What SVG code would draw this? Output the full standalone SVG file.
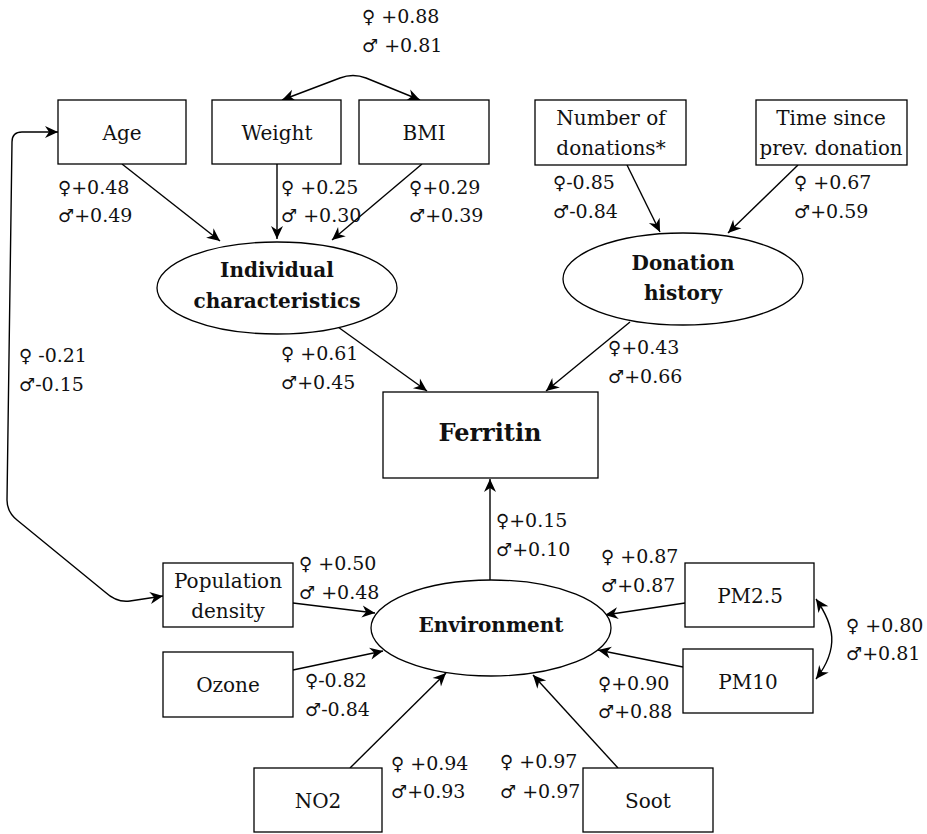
<svg xmlns="http://www.w3.org/2000/svg" width="927" height="834" viewBox="0 0 927 834">
<style>
.box{fill:#fff;stroke:#000;stroke-width:1.3}
.t{font-family:"DejaVu Serif",serif;font-size:20px;fill:#111;text-anchor:middle}
.b{font-family:"DejaVu Serif",serif;font-weight:bold;font-size:20px;fill:#111;text-anchor:middle}
.e{fill:none;stroke:#000;stroke-width:1.4;marker-end:url(#ah)}
.d{marker-start:url(#ah)}
.l{font-family:"DejaVu Serif",serif;font-size:19px;fill:#111}
.s{font-family:"DejaVu Sans",sans-serif;font-size:18px}
</style>
<defs>
<marker id="ah" viewBox="-14 -7 15 14" refX="0" refY="0" markerWidth="15" markerHeight="14" markerUnits="userSpaceOnUse" orient="auto-start-reverse">
<path d="M0,0 L-13,-6 L-9,0 L-13,6 Z" fill="#000"/>
</marker>
</defs>
<rect width="927" height="834" fill="#fff"/>
<g id="connectors">
<path class="e" d="M122 164 L220 241"/>
<path class="e" d="M277 164 L277 239"/>
<path class="e" d="M422 164 L332 240"/>
<path class="e d" d="M282 100 L340 78 Q353 73 366 78 L420 100"/>
<path class="e" d="M627 165 L660 232"/>
<path class="e" d="M798 165 L728 233"/>
<path class="e" d="M338 327 L427 391"/>
<path class="e" d="M630 322 L546 391"/>
<path class="e" d="M490 580 L490 479"/>
<path class="e" d="M293 603 L375 613"/>
<path class="e" d="M293 670 L383 651"/>
<path class="e" d="M350 768 L446 673"/>
<path class="e" d="M618 768 L533 675"/>
<path class="e" d="M685 603 L605 615"/>
<path class="e" d="M683 667 L598 650"/>
<path class="e d" d="M816 599 C834 625 840 648 816 679"/>
<path class="e d" d="M58 132 L22 132 Q12 132 12 142 L7 500 Q7 512 17 520 L105 592 Q117 603 130 601 L163 596"/>
</g>
<g id="age"><rect class="box" x="58" y="100" width="128" height="64"/><text class="t" x="122" y="140">Age</text></g>
<g id="weight"><rect class="box" x="212" y="100" width="129" height="64"/><text class="t" x="277" y="140">Weight</text></g>
<g id="bmi"><rect class="box" x="359" y="100" width="130" height="64"/><text class="t" x="424" y="140">BMI</text></g>
<g id="numdon"><rect class="box" x="535" y="100" width="151" height="65"/><text class="t" x="611" y="125">Number of</text><text class="t" x="611" y="155">donations*</text></g>
<g id="timesince"><rect class="box" x="756" y="100" width="151" height="65"/><text class="t" x="831" y="125">Time since</text><text class="t" x="831" y="155" textLength="143" lengthAdjust="spacingAndGlyphs">prev. donation</text></g>
<g id="indchar"><ellipse class="box" cx="277" cy="288" rx="120" ry="46"/><text class="b" x="277" y="277">Individual</text><text class="b" x="277" y="308">characteristics</text></g>
<g id="donhist"><ellipse class="box" cx="683" cy="279" rx="120" ry="46"/><text class="b" x="683" y="270">Donation</text><text class="b" x="683" y="300">history</text></g>
<g id="ferritin"><rect class="box" x="383" y="392" width="215" height="86"/><text class="b" x="490" y="441" style="font-size:24px">Ferritin</text></g>
<g id="environment"><ellipse class="box" cx="491" cy="628" rx="120" ry="48"/><text class="b" x="491" y="632">Environment</text></g>
<g id="popdens"><rect class="box" x="163" y="563" width="130" height="64"/><text class="t" x="228" y="588">Population</text><text class="t" x="228" y="618">density</text></g>
<g id="ozone"><rect class="box" x="163" y="652" width="130" height="65"/><text class="t" x="228" y="692">Ozone</text></g>
<g id="no2"><rect class="box" x="254" y="768" width="128" height="64"/><text class="t" x="318" y="808">NO2</text></g>
<g id="soot"><rect class="box" x="583" y="768" width="130" height="64"/><text class="t" x="648" y="808">Soot</text></g>
<g id="pm25"><rect class="box" x="685" y="563" width="129" height="64"/><text class="t" x="750" y="603">PM2.5</text></g>
<g id="pm10"><rect class="box" x="683" y="649" width="130" height="64"/><text class="t" x="748" y="689">PM10</text></g>
<g id="labels" class="l">
<text x="362" y="23"><tspan class="s">♀</tspan> +0.88</text><text x="362" y="52"><tspan class="s">♂</tspan> +0.81</text>
<text x="58" y="194"><tspan class="s">♀</tspan>+0.48</text><text x="58" y="222"><tspan class="s">♂</tspan>+0.49</text>
<text x="281" y="194"><tspan class="s">♀</tspan> +0.25</text><text x="281" y="222"><tspan class="s">♂</tspan> +0.30</text>
<text x="409" y="194"><tspan class="s">♀</tspan>+0.29</text><text x="409" y="222"><tspan class="s">♂</tspan>+0.39</text>
<text x="553" y="189"><tspan class="s">♀</tspan>-0.85</text><text x="553" y="218"><tspan class="s">♂</tspan>-0.84</text>
<text x="794" y="189"><tspan class="s">♀</tspan> +0.67</text><text x="794" y="218"><tspan class="s">♂</tspan>+0.59</text>
<text x="281" y="360"><tspan class="s">♀</tspan> +0.61</text><text x="281" y="389"><tspan class="s">♂</tspan>+0.45</text>
<text x="608" y="354"><tspan class="s">♀</tspan>+0.43</text><text x="608" y="383"><tspan class="s">♂</tspan>+0.66</text>
<text x="19" y="362"><tspan class="s">♀</tspan> -0.21</text><text x="19" y="391"><tspan class="s">♂</tspan>-0.15</text>
<text x="496" y="527"><tspan class="s">♀</tspan>+0.15</text><text x="496" y="556"><tspan class="s">♂</tspan>+0.10</text>
<text x="299" y="570"><tspan class="s">♀</tspan> +0.50</text><text x="299" y="599"><tspan class="s">♂</tspan> +0.48</text>
<text x="601" y="563"><tspan class="s">♀</tspan> +0.87</text><text x="601" y="592"><tspan class="s">♂</tspan>+0.87</text>
<text x="846" y="632"><tspan class="s">♀</tspan> +0.80</text><text x="846" y="660"><tspan class="s">♂</tspan>+0.81</text>
<text x="598" y="690"><tspan class="s">♀</tspan>+0.90</text><text x="598" y="718"><tspan class="s">♂</tspan>+0.88</text>
<text x="305" y="687"><tspan class="s">♀</tspan>-0.82</text><text x="305" y="716"><tspan class="s">♂</tspan>-0.84</text>
<text x="391" y="770"><tspan class="s">♀</tspan> +0.94</text><text x="391" y="798"><tspan class="s">♂</tspan>+0.93</text>
<text x="500" y="768"><tspan class="s">♀</tspan> +0.97</text><text x="500" y="798"><tspan class="s">♂</tspan> +0.97</text>
</g>
</svg>
